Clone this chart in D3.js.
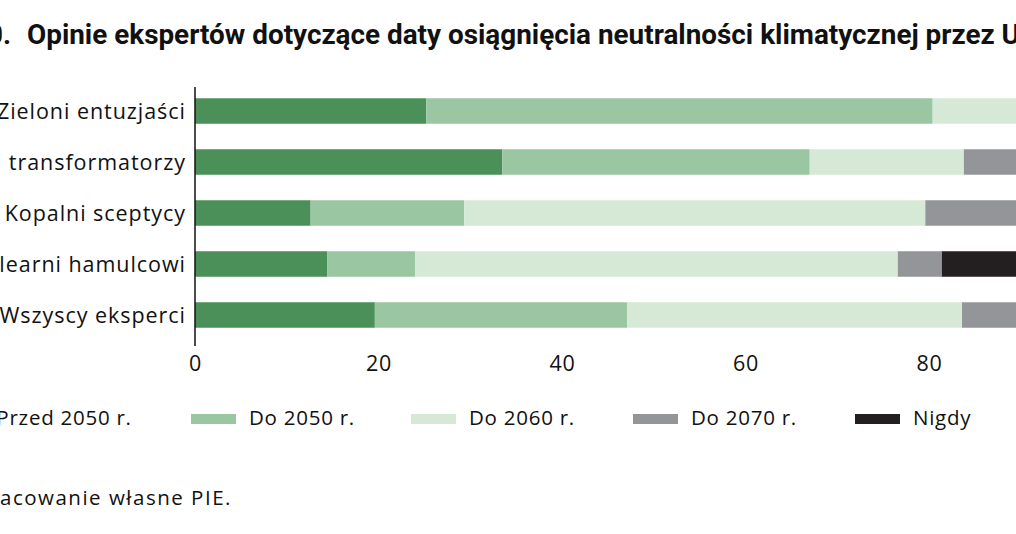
<!DOCTYPE html>
<html><head><meta charset="utf-8">
<script src="https://cdn.jsdelivr.net/npm/d3@7"></script>
<style>
html,body{margin:0;padding:0;background:#fff;overflow:hidden;}
svg{display:block;}
</style></head>
<body>
<svg id="chart" width="1016" height="534"></svg>
<script>
const categories = ["Zieloni entuzjaści","Umiarkowani transformatorzy","Kopalni sceptycy","Nuklearni hamulcowi","Wszyscy eksperci"];
const seriesNames = ["Przed 2050 r.","Do 2050 r.","Do 2060 r.","Do 2070 r.","Nigdy"];
const przed2050 = [25.2, 33.5, 12.6, 14.4, 19.6];
const do2050    = [55.2, 33.5, 16.75, 9.6, 27.5];
const do2060    = [19.6, 16.8, 50.25, 52.6, 36.5];
const do2070    = [0, 16.2, 20.4, 4.8, 16.4];
const nigdy     = [0, 0, 0, 18.6, 0];
const xTicks = [0, 20, 40, 60, 80, 100];
const colors = ["#4b9059","#9ac6a1","#d6e9d6","#949598","#231f20"];
const titleText = "Opinie ekspertów dotyczące daty osiągnięcia neutralności klimatycznej przez UE";
const sourceText = "Źródło: opracowanie własne PIE.";

const svg = d3.select("#chart");
const font = "'Open Sans', 'Noto Sans', sans-serif";

function measure(str, size, weight, family, ls){
  const p = svg.append("text").attr("font-family",family||font).attr("font-size",size)
    .attr("font-weight",weight||"normal").style("letter-spacing",(ls||0)+"px").text(str);
  const w = p.node().getComputedTextLength(); p.remove(); return w;
}
function spacingFor(str, size, target){
  const w = measure(str, size);
  return (target - w) / str.length;
}

const rows = categories.map((c,i)=>({cat:c, "Przed 2050 r.":przed2050[i], "Do 2050 r.":do2050[i], "Do 2060 r.":do2060[i], "Do 2070 r.":do2070[i], "Nigdy":nigdy[i]}));
const stacked = d3.stack().keys(seriesNames)(rows);

const x = d3.scaleLinear().domain([0,100]).range([195, 1112.5]);
const y = d3.scaleBand().domain(categories).range([85.5, 340.5]).paddingInner(0.5).paddingOuter(0.25);
const color = d3.scaleOrdinal().domain(seriesNames).range(colors);

// title
const tFam = "Roboto, sans-serif";
const tw = measure(titleText.slice(0, titleText.lastIndexOf("UE")), 21, "bold", tFam);
const tSize = 21*968/tw;
svg.append("text").attr("x", 11).attr("y", 44).attr("text-anchor","end")
  .attr("font-family",tFam).attr("font-weight","bold").attr("font-size",tSize).attr("fill","#111")
  .text("Wykres 10.");
svg.append("text").attr("x", 27).attr("y", 44)
  .attr("font-family",tFam).attr("font-weight","bold").attr("font-size",tSize).attr("fill","#111")
  .text(titleText);

// bars
svg.append("g").selectAll("g").data(stacked).join("g")
  .attr("fill", d=>color(d.key))
  .selectAll("rect").data(d=>d).join("rect")
  .attr("x", d=>x(d[0])).attr("width", d=>Math.max(0, x(d[1])-x(d[0])))
  .attr("y", d=>y(d.data.cat)).attr("height", y.bandwidth());

// axis line
svg.append("line").attr("x1",195).attr("x2",195).attr("y1",87).attr("y2",346)
  .attr("stroke","#111").attr("stroke-width",1.5);

// category labels
const labSize = 21.5;
const labLS = spacingFor("Zieloni entuzjaści", labSize, 189);
svg.append("g").selectAll("text").data(categories).join("text")
  .attr("x", 185 + labLS).attr("y", d=>y(d)+y.bandwidth()/2).attr("dy","0.36em")
  .attr("text-anchor","end").attr("font-family",font).attr("font-size",labSize).attr("fill","#111")
  .style("letter-spacing", labLS+"px")
  .text(d=>d);

// x axis tick labels
const xAxis = d3.axisBottom(x).tickValues(xTicks).tickSize(0).tickPadding(0);
const gx = svg.append("g").attr("transform","translate(0,356)").call(xAxis);
gx.select(".domain").remove();
gx.selectAll("text").attr("font-family",font).attr("font-size",21.5).attr("fill","#111").attr("dy","0.72em")
  .style("letter-spacing","0.6px");

// legend
const legSize = 20.5;
const legLS = spacingFor("Do 2050 r.", legSize, 106);
const legX = [null, 191, 411, 633, 855];
const leg = svg.append("g");
seriesNames.forEach((s,i)=>{
  if(i===0){
    leg.append("rect").attr("x",-75).attr("y",414).attr("width",45).attr("height",10).attr("fill",color(s));
    leg.append("text").attr("x",131 + legLS).attr("y",425).attr("text-anchor","end")
      .attr("font-family",font).attr("font-size",legSize).style("letter-spacing",legLS+"px").attr("fill","#111").text(s);
  } else {
    leg.append("rect").attr("x",legX[i]).attr("y",414).attr("width",45).attr("height",10).attr("fill",color(s));
    leg.append("text").attr("x",legX[i]+58).attr("y",425)
      .attr("font-family",font).attr("font-size",legSize).style("letter-spacing",legLS+"px").attr("fill","#111").text(s);
  }
});

// source
{
  const sSize = 20.5;
  const sLS = spacingFor("acowanie własne PIE.", sSize, 232);
  const pre = measure("Źródło: opr", sSize, "normal", font, sLS);
  svg.append("text").attr("x", -pre).attr("y",505).attr("font-family",font).attr("font-size",sSize)
    .style("letter-spacing", sLS+"px").attr("fill","#111").text(sourceText);
}
</script>
</body></html>
